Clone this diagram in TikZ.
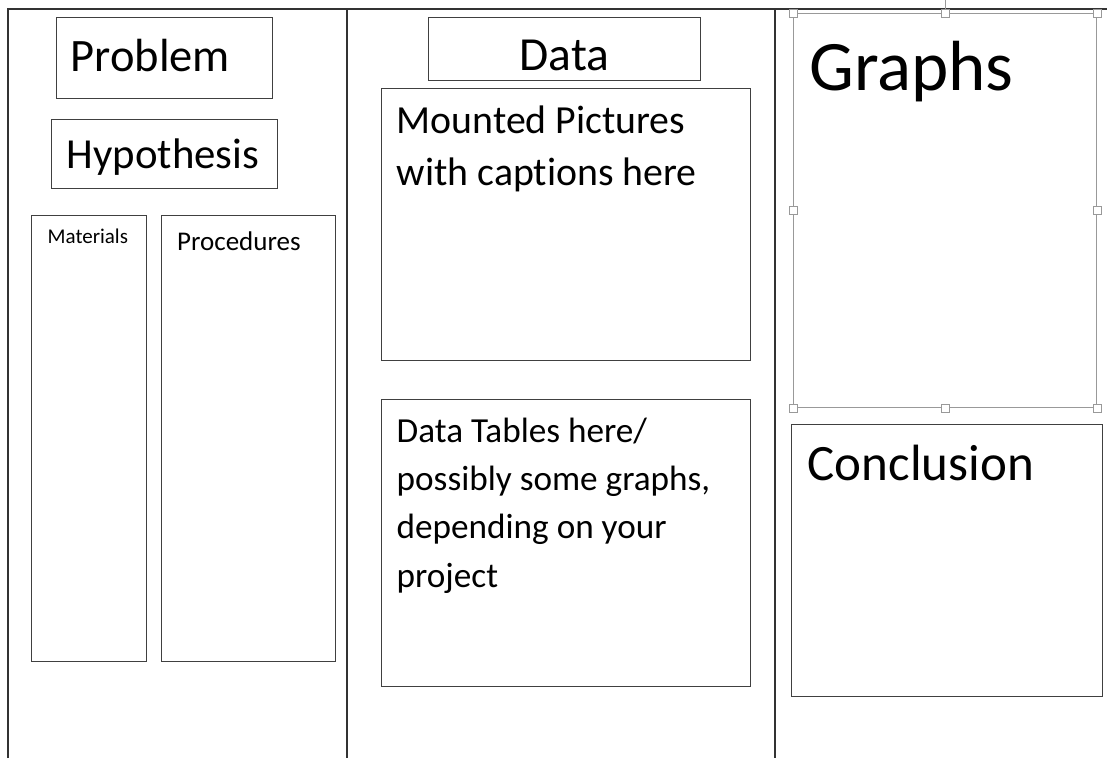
\documentclass[tikz,border=0pt]{standalone}
\usepackage{fontspec}
\setmainfont[Ligatures={NoCommon}]{Carlito}
\begin{document}
\begin{tikzpicture}[x=1pt,y=-1pt,
  frame/.style={draw=black!80, line width=1.3pt},
  box/.style={draw=black!75, line width=1.4pt, inner sep=0pt, anchor=north west},
  selbox/.style={draw=black!40, line width=1pt, inner sep=0pt, anchor=north west},
  lbl/.style={anchor=base west, inner sep=0pt, text=black},
  handle/.style={draw=black!40, fill=white, line width=0.8pt, minimum size=8pt, inner sep=0pt}]
\useasboundingbox (0,0) rectangle (1107,758);
% frame of the board
\coordinate (tl) at (8,9);
\coordinate (tr) at (1107,9);
\coordinate (bl) at (8,758);
\coordinate (m1t) at (347,9);
\coordinate (m1b) at (347,758);
\coordinate (m2t) at (775,9);
\coordinate (m2b) at (775,758);
\draw[frame] (bl) -- (tl) -- (tr);
\draw[frame] (m1t) -- (m1b);
\draw[frame] (m2t) -- (m2b);
% left panel
\node[box, minimum width=216pt, minimum height=81pt] (problem) at (56,17) {};
\node[lbl, font=\fontsize{46.5}{55}\selectfont] (problemT) at (70.5,71.7) {Problem};
\node[box, minimum width=226pt, minimum height=69pt] (hyp) at (51,119) {};
\node[lbl, font=\fontsize{42.8}{50}\selectfont] (hypT) at (66.5,168.3) {Hypothesis};
\node[box, minimum width=115pt, minimum height=446pt] (mat) at (31,215) {};
\node[lbl, font=\fontsize{21}{25}\selectfont] (matT) at (47.5,243.3) {Materials};
\node[box, minimum width=174pt, minimum height=446pt] (proc) at (161,215) {};
\node[lbl, font=\fontsize{27}{32}\selectfont] (procT) at (177,250) {Procedures};
% middle panel
\node[box, minimum width=272pt, minimum height=63pt] (data) at (428,17) {};
\node[lbl, font=\fontsize{47.5}{56}\selectfont] (dataT) at (519.5,70.7) {Data};
\node[box, minimum width=369pt, minimum height=272pt] (mount) at (381,88) {};
\node[lbl, font=\fontsize{39.8}{47}\selectfont] (mountA) at (396.5,133) {Mounted Pictures};
\node[lbl, font=\fontsize{39.8}{47}\selectfont] (mountB) at (396.5,185) {with captions here};
\node[box, minimum width=369pt, minimum height=287pt] (tables) at (381,399) {};
\node[lbl, font=\fontsize{35.2}{42}\selectfont] (tabA) at (396.5,442) {Data Tables here/};
\node[lbl, font=\fontsize{35.2}{42}\selectfont] (tabB) at (396.5,490.5) {possibly some graphs,};
\node[lbl, font=\fontsize{35.2}{42}\selectfont] (tabC) at (396.5,538.5) {depending on your};
\node[lbl, font=\fontsize{35.2}{42}\selectfont] (tabD) at (396.5,587) {project};
% right panel
\node[selbox, minimum width=303pt, minimum height=394pt] (graphs) at (793,13) {};
\coordinate (rot) at (graphs.north |- 0,0);
\draw[draw=black!40, line width=0.8pt] (rot) -- (graphs.north);
\foreach \a in {north west, north, north east, west, east, south west, south, south east}
  \node[handle] at (graphs.\a) {};
\node[lbl, font=\fontsize{71}{84}\selectfont] (graphsT) at (809,90) {Graphs};
\node[box, minimum width=311pt, minimum height=272pt] (concl) at (791,424) {};
\node[lbl, font=\fontsize{51}{60}\selectfont] (conclT) at (807.5,480) {Conclusion};
\end{tikzpicture}
\end{document}
